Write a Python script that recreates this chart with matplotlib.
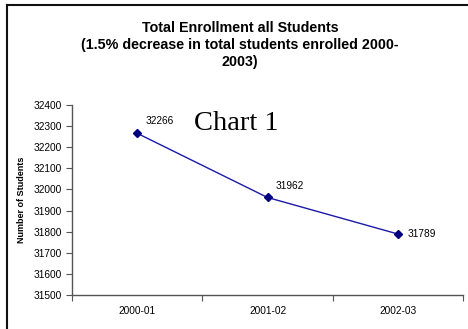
import matplotlib
matplotlib.use("Agg")
import matplotlib.pyplot as plt
from matplotlib.lines import Line2D

categories = ["2000-01", "2001-02", "2002-03"]
students = [32266, 31962, 31789]
yticks = [31500, 31600, 31700, 31800, 31900, 32000, 32100, 32200, 32300, 32400]
title_lines = ["Total Enrollment all Students",
               "(1.5% decrease in total students enrolled 2000-",
               "2003)"]

plt.rcParams['font.family'] = ['Liberation Sans', 'DejaVu Sans']

fig = plt.figure(figsize=(4.68, 3.29), dpi=100)
ax = fig.add_axes([72/468, 1-295/329, (463-72)/468, (295-105)/329])

x = list(range(len(categories)))
ax.plot(x, students, color='#1a1aa6', lw=1.0, marker='D', ms=4,
        markerfacecolor='#000080', markeredgecolor='#000080', zorder=3)

offsets = [(6, 5), (6, 5), (7, 0)]
for xi, v, (dx, dy) in zip(x, students, offsets):
    ax.annotate(str(v), (xi, v), xytext=(dx, dy), textcoords='offset points',
                fontsize=7.3, ha='left', va='bottom' if dy else 'center')

ax.set_xlim(-0.5, 2.5)
ax.set_ylim(31500, 32400)
ax.set_yticks(yticks)
ax.set_yticklabels([str(t) for t in yticks], fontsize=7.3)
ax.set_xticks([-0.5, 0.5, 1.5, 2.5])
ax.set_xticklabels([])
ax.set_xticks(x, minor=True)
ax.set_xticklabels(categories, minor=True, fontsize=7.3)
ax.tick_params(axis='x', which='minor', length=0, pad=8)
ax.tick_params(axis='x', which='major', length=4, width=0.8, color='#555555', direction='out')
ax.tick_params(axis='y', length=4, width=0.8, color='#555555', direction='out', pad=3)
for s in ['top', 'right']:
    ax.spines[s].set_visible(False)
for s in ['left', 'bottom']:
    ax.spines[s].set_color('#555555')
    ax.spines[s].set_linewidth(1.0)

ax.set_ylabel("Number of Students", fontsize=6.5, fontweight='bold', labelpad=6)

for line, yb in zip(title_lines, [31.5, 49, 66]):
    fig.text(240/468, 1-yb/329, line, ha='center', va='baseline',
             fontsize=10.3, fontweight='bold')

fig.text(194/468, 1-123/329, "Chart 1", fontsize=20.5, family='Liberation Serif',
         ha='left', va='center')

fig.add_artist(Line2D([6.5/468, 6.5/468], [0, 1-4.5/329], transform=fig.transFigure,
                      color='#111111', lw=1.5))
fig.add_artist(Line2D([6.5/468, 1], [1-4.5/329, 1-4.5/329], transform=fig.transFigure,
                      color='#111111', lw=1.5))

fig.savefig("out.png", dpi=100)
